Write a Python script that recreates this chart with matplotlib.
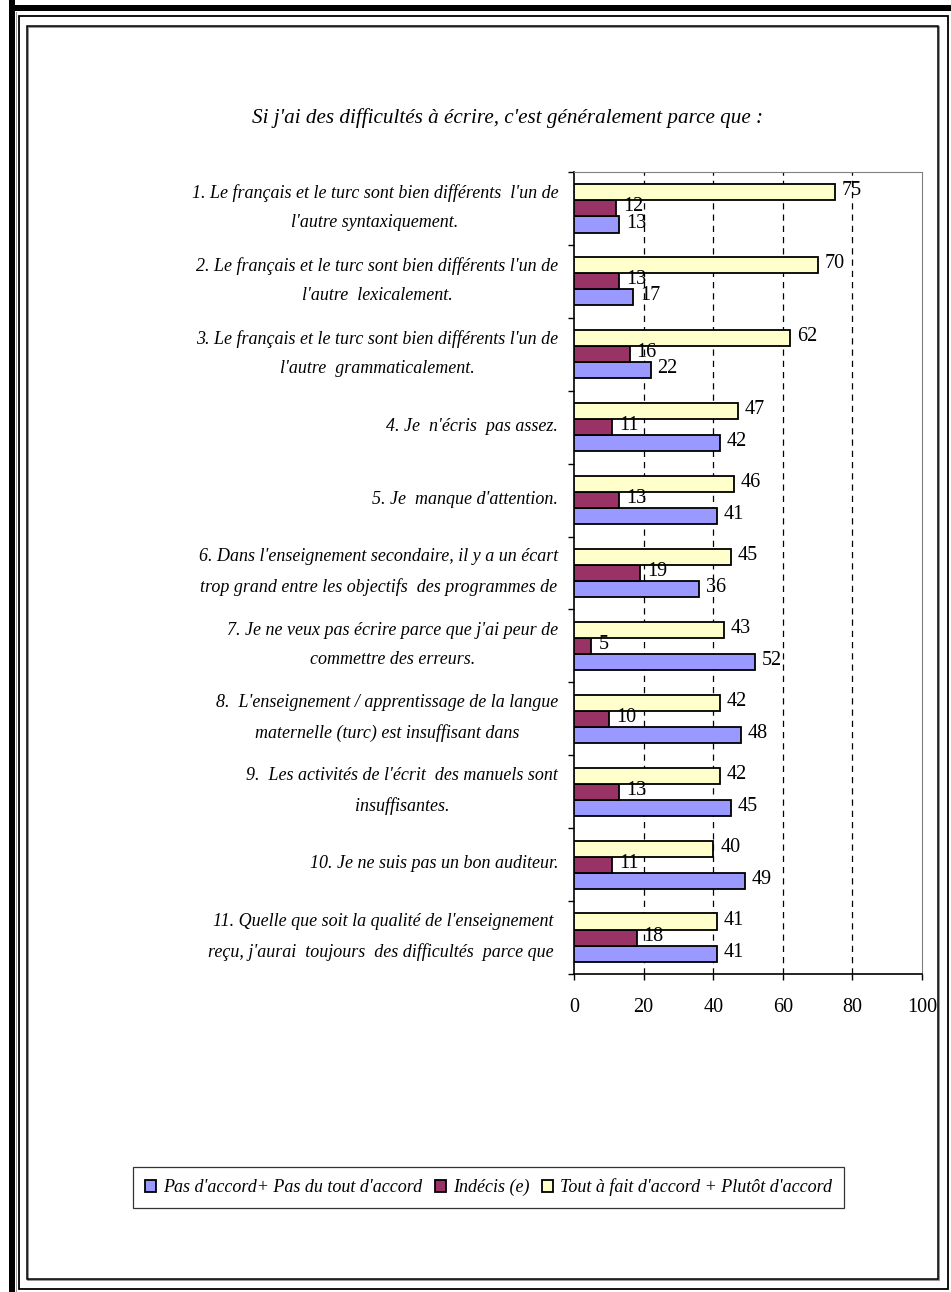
import matplotlib
matplotlib.use('Agg')
import matplotlib.pyplot as plt
from matplotlib.patches import Rectangle
import numpy as np

plt.rcParams['font.family'] = ['Liberation Serif', 'DejaVu Serif']

# data
questions = [
    "1. Le français et le turc sont bien différents  l'un de\nl'autre syntaxiquement.",
    "2. Le français et le turc sont bien différents l'un de\nl'autre  lexicalement.",
    "3. Le français et le turc sont bien différents l'un de\nl'autre  grammaticalement.",
    "4. Je  n'écris  pas assez.",
    "5. Je  manque d'attention.",
    "6. Dans l'enseignement secondaire, il y a un écart\ntrop grand entre les objectifs  des programmes de",
    "7. Je ne veux pas écrire parce que j'ai peur de\ncommettre des erreurs.",
    "8.  L'enseignement / apprentissage de la langue\nmaternelle (turc) est insuffisant dans",
    "9.  Les activités de l'écrit  des manuels sont\ninsuffisantes.",
    "10. Je ne suis pas un bon auditeur.",
    "11. Quelle que soit la qualité de l'enseignement\nreçu, j'aurai  toujours  des difficultés  parce que ",
]
pas_accord = [13, 17, 22, 42, 41, 36, 52, 48, 45, 49, 41]
indecis = [12, 13, 16, 11, 13, 19, 5, 10, 13, 11, 18]
accord = [75, 70, 62, 47, 46, 45, 43, 42, 42, 40, 41]

series_names = ["Pas d'accord+ Pas du tout d'accord", "Indécis (e)",
                "Tout à fait d'accord + Plutôt d'accord"]
colors = ['#9999FF', '#993366', '#FFFFCC']
xticks = [0, 20, 40, 60, 80, 100]

W, H = 951, 1292
fig = plt.figure(figsize=(W / 100, H / 100), dpi=100)
fig.patch.set_facecolor('white')


def fx(px):
    return px / W


def fy(py):
    return 1 - py / H


# page frames
fig.add_artist(Rectangle((fx(9), fy(1292)), fx(6), 1, transform=fig.transFigure,
                         facecolor='black', edgecolor='none'))
fig.add_artist(Rectangle((fx(9), fy(11)), 1, 6 / H, transform=fig.transFigure,
                         facecolor='black', edgecolor='none'))
fig.add_artist(Rectangle((fx(16), fy(1292)), fx(1), 1 - 12 / H, transform=fig.transFigure,
                         facecolor='#a0a0a0', edgecolor='none'))
fig.add_artist(Rectangle((fx(18.5), fy(1289)), fx(948 - 18.5), (1289 - 15.5) / H,
                         transform=fig.transFigure, facecolor='none',
                         edgecolor='black', linewidth=1.3))
fig.add_artist(Rectangle((fx(28), fy(1280)), fx(939 - 28), (1280 - 27) / H,
                         transform=fig.transFigure, facecolor='none',
                         edgecolor='#808080', linewidth=1.2))
fig.add_artist(Rectangle((fx(27), fy(1279)), fx(938 - 27), (1279 - 26) / H,
                         transform=fig.transFigure, facecolor='none',
                         edgecolor='black', linewidth=1.1))

ax = fig.add_axes([fx(574), fy(974), fx(922 - 574), (974 - 172) / H])

y = np.arange(len(questions))
h = 0.22
bars = []
for vals, off, c, name in [(pas_accord, h, colors[0], series_names[0]),
                           (indecis, 0, colors[1], series_names[1]),
                           (accord, -h, colors[2], series_names[2])]:
    b = ax.barh(y + off, vals, height=h, color=c, edgecolor='black',
                linewidth=1.3, label=name, zorder=3)
    bars.append(b)
    for yi, v in zip(y + off, vals):
        ax.text(v + 2.0, yi - 0.02, str(v), va='center', ha='left', fontsize=14.5, zorder=4)

ax.set_xlim(0, 100)
ax.set_ylim(len(questions) - 0.5, -0.5)
ax.set_xticks(xticks)
ax.set_xticklabels([str(t) for t in xticks], fontsize=14.5)
ax.tick_params(axis='x', direction='out', length=4, width=1, pad=13)
ax.set_yticks(np.arange(len(questions) + 1) - 0.5)
ax.set_yticklabels([])
ax.tick_params(axis='y', direction='out', length=4, width=1)

for t in xticks[1:-1]:
    ax.axvline(t, color='black', linewidth=0.9, linestyle=(0, (5, 4)), zorder=1)

ax.spines['left'].set_color('black')
ax.spines['bottom'].set_color('black')
ax.spines['left'].set_linewidth(1.2)
ax.spines['bottom'].set_linewidth(1.2)
ax.spines['top'].set_color('#808080')
ax.spines['right'].set_color('#808080')

for yi, q in zip(y, questions):
    ax.text(-0.045, yi - 0.01, q, transform=ax.get_yaxis_transform(), ha='right',
            va='center', multialignment='center', fontsize=13, style='italic',
            linespacing=1.95)

fig.text(fx(508), fy(118), "Si j'ai des difficultés à écrire, c'est généralement parce que :",
         ha='center', va='center', fontsize=15.2, style='italic')

leg = fig.legend(handles=bars, labels=series_names, loc='center',
                 bbox_to_anchor=(fx(488.5), fy(1187.5)), ncol=3, frameon=True,
                 fancybox=False, edgecolor='black', handlelength=0.6,
                 handleheight=0.6, handletextpad=0.4, columnspacing=0.7,
                 borderpad=0.65, borderaxespad=0, prop={'style': 'italic', 'size': 13})
leg.get_frame().set_linewidth(0.9)

fig.savefig('out.png', dpi=100)
